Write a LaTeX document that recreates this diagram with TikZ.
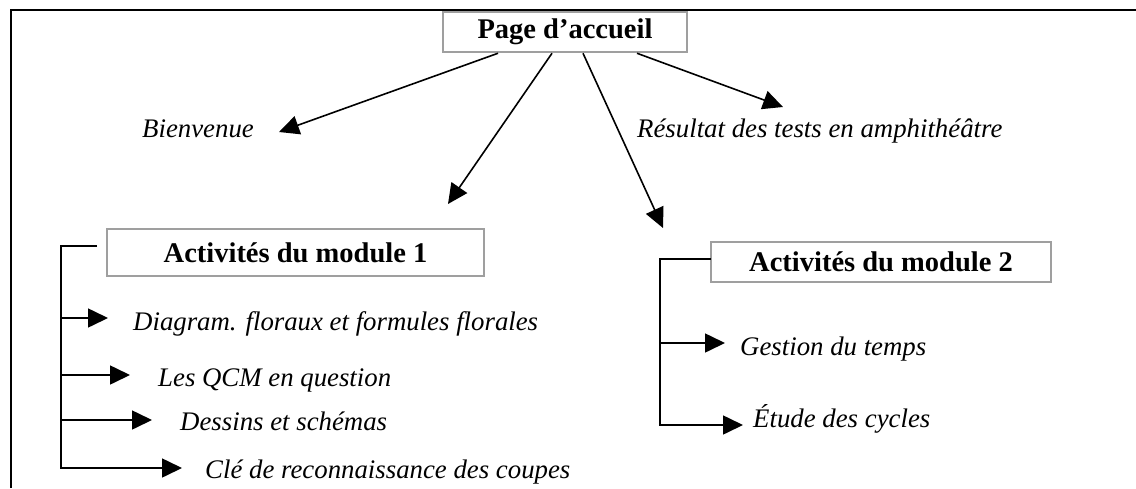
\documentclass[tikz,border=0pt]{standalone}
\usepackage{fontspec}
\setmainfont{Liberation Serif}
\usetikzlibrary{arrows.meta,calc}
\begin{document}
\begin{tikzpicture}[x=1pt,y=-1pt,
  frame/.style={line width=2pt},
  titlebox/.style={draw=gray!75, line width=2.5pt, fill=white, inner sep=0pt, font=\fontsize{28.5}{32}\selectfont\bfseries},
  item/.style={inner sep=0pt, anchor=base west, font=\fontsize{26.8}{30}\selectfont\itshape},
  conn/.style={line width=1.6pt},
  arr/.style={conn, -{Triangle[length=20pt,width=19pt]}}]
\useasboundingbox (0,0) rectangle (1136,488);
\draw[frame] (11,488) -- (11,10) -- (1136,10);

\node[titlebox, minimum width=244pt, minimum height=40pt] (pa) at (565,32) {Page d’accueil};

\node[item] (bien) at (142,137) {Bienvenue};
\node[item] (res) at (637,137) {Résultat des tests en amphithéâtre};

\node[titlebox, minimum width=377pt, minimum height=47pt] (m1) at (295.5,252.5) {Activités du module 1};
\node[titlebox, minimum width=340pt, minimum height=40pt] (m2) at (881,262) {Activités du module 2};

\node[item] (d1) at (133,330) {Diagram. floraux et formules florales};
\node[item] (d2) at (158,386) {Les QCM en question};
\node[item] (d3) at (180,430) {Dessins et schémas};
\node[item] (d4) at (205,478) {Clé de reconnaissance des coupes};

\node[item] (g1) at (740,355) {Gestion du temps};
\node[item] (g2) at (753,427) {Étude des cycles};

% connectors from the home page
\coordinate (s1) at ($(pa.south)+(-67,0)$);
\coordinate (s2) at ($(pa.south)+(-13,0)$);
\coordinate (s3) at ($(pa.south)+(18,0)$);
\coordinate (s4) at ($(pa.south)+(72,0)$);
\coordinate (t1) at (279,132);
\coordinate (t2) at (448,204);
\coordinate (t3) at (663,228);
\coordinate (t4) at (783,107);
\draw[arr] (s1) -- (t1);
\draw[arr] (s2) -- (t2);
\draw[arr] (s3) -- (t3);
\draw[arr] (s4) -- (t4);

% module 1 bracket
\coordinate (b1) at (97,246);
\coordinate (b1v) at (61,468);
\draw[arr] (b1) -| (b1v) -- (182,468);
\draw[arr] (61,318) -- (108,318);
\draw[arr] (61,375) -- (130,375);
\draw[arr] (61,420) -- (152,420);

% module 2 bracket
\coordinate (b2) at (711,259);
\coordinate (b2v) at (660,425);
\draw[arr] (b2) -| (b2v) -- (743,425);
\draw[arr] (660,343) -- (725,343);
\end{tikzpicture}
\end{document}
